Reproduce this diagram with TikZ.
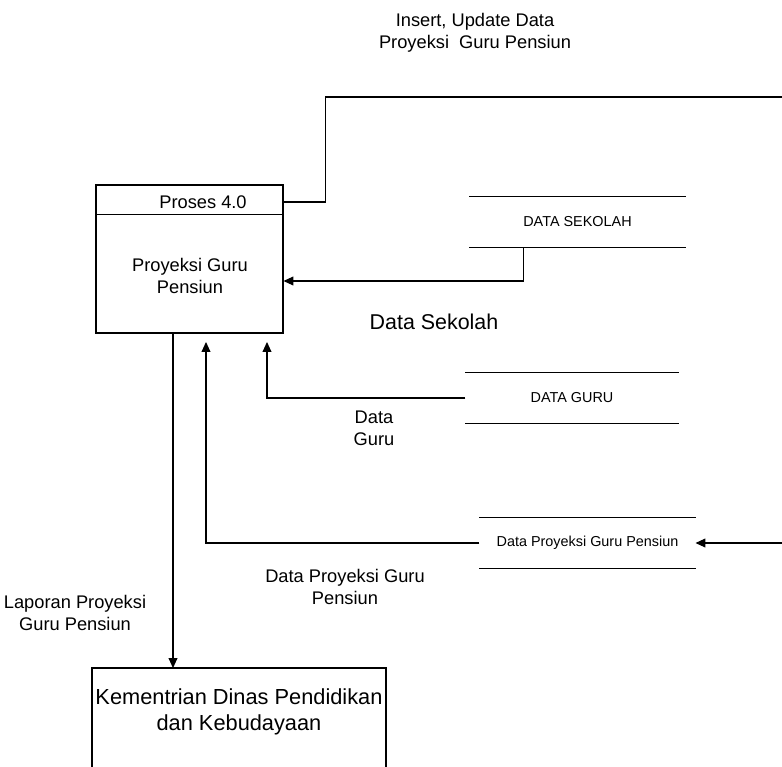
\documentclass[tikz,border=0pt]{standalone}
\usepackage{fontspec}
\setmainfont{Liberation Sans}
\usetikzlibrary{arrows.meta}

\begin{document}
\begin{tikzpicture}[x=0.02cm,y=-0.02cm,line width=0.6pt,
  lbl/.style={align=center,inner sep=0pt,font=\fontsize{10.4}{12.6}\selectfont},
  store/.style={minimum width=4.3cm,minimum height=1cm,inner sep=0pt,font=\fontsize{8.2}{9.6}\selectfont},
  flow/.style={-{Triangle[length=5.6pt,width=5pt]}}]
 \useasboundingbox (0,0) rectangle (782,767);
 \def\xR{782} % borde derecho
 \def\yA{342} % punta de las flechas bajo el proceso
% proceso 4.0
 \node[draw,minimum width=3.74cm,minimum height=2.96cm,inner sep=0pt] (proc) at (189.5,259) {};
 \draw (proc.north west) ++(0,30) -- ++(187,0);
 \node[lbl] (title) at (203,202) {Proses 4.0};
 \node[lbl] (pname) at (190,276) {Proyeksi Guru\\Pensiun};
% almacenes
 \node[store] (sekolah) at (577.5,222) {DATA SEKOLAH};
 \node[store,minimum width=4.24cm] (guru) at (572,398) {DATA GURU};
 \node[store] (proy) at (587.5,543) {Data Proyeksi Guru Pensiun};
 \foreach \s in {sekolah,guru,proy}{
  \draw (\s.north west) -- (\s.north east);
  \draw (\s.south west) -- (\s.south east);
 }
% entidad externa
 \node[lbl,font=\fontsize{12.4}{15}\selectfont] (kemen) at (239,712) {Kementrian Dinas Pendidikan\\dan Kebudayaan};
 \draw (92,767) |- (386,668) coordinate (ktop) -- (386,767);
% flujos
 \coordinate (ins) at (\xR,97);
 \coordinate (inp) at (\xR,543);
 \coordinate (gA) at (267,\yA);
 \coordinate (pA) at (206,\yA);
 \draw (title -| proc.east) -- ++(42,0) |- (ins);
 \draw[flow] (sekolah.south west) ++(54,0) |- (proc.east |- 0,281);
 \draw[flow] (guru.west) -| (gA);
 \draw[flow] (proy.west) -| (pA);
 \draw[flow] (inp) -- (proy.east);
 \draw[flow] (proc.south -| 173,0) -- (ktop -| 173,0);
% etiquetas
 \node[lbl] (lins) at (475,33) {Insert, Update Data\\Proyeksi\ \ Guru Pensiun};
 \node[lbl,font=\fontsize{12.2}{14}\selectfont] (lsek) at (434,322) {Data Sekolah};
 \node[lbl] (lgur) at (374,428) {Data\\Guru};
 \node[lbl] (lpro) at (345,587) {Data Proyeksi Guru\\Pensiun};
 \node[lbl] (llap) at (75,613) {Laporan Proyeksi\\Guru Pensiun};
\end{tikzpicture}
\end{document}
